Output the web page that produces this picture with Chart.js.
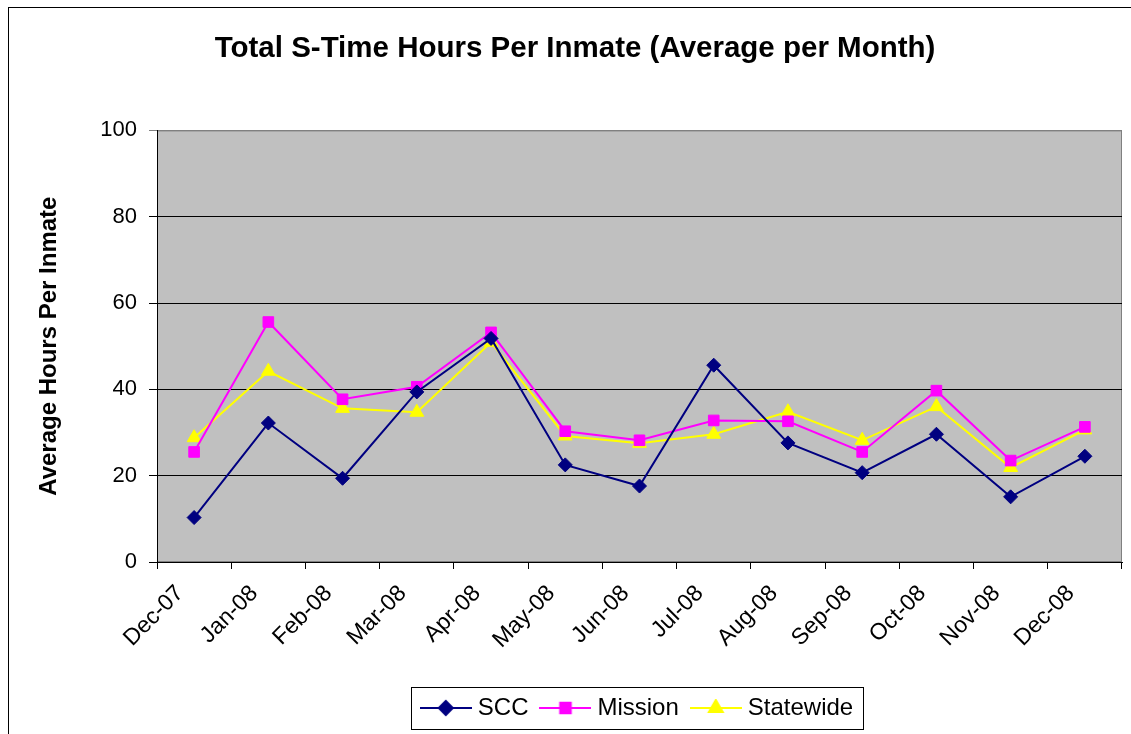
<!DOCTYPE html>
<html>
<head>
<meta charset="utf-8">
<script src="https://cdn.jsdelivr.net/npm/chart.js@4.4.1/dist/chart.umd.min.js"></script>
<style>
  html, body { margin: 0; padding: 0; background: #fff; overflow: hidden; }
  #frame { position: absolute; left: 8px; top: 7px; width: 1200px; height: 800px;
           border-left: 1px solid #000; border-top: 1px solid #000; }
  #wrap { position: absolute; left: 8px; top: 7px; width: 1134px; height: 727px; }
</style>
</head>
<body>
<div id="frame"></div>
<div id="wrap"><canvas id="myChart"></canvas></div>
<script>
const months = ['Dec-07', 'Jan-08', 'Feb-08', 'Mar-08', 'Apr-08', 'May-08', 'Jun-08',
                'Jul-08', 'Aug-08', 'Sep-08', 'Oct-08', 'Nov-08', 'Dec-08'];
const scc       = [10.3, 32.2, 19.4, 39.4, 51.8, 22.5, 17.6, 45.6, 27.6, 20.7, 29.6, 15.1, 24.5];
const mission   = [25.5, 55.6, 37.7, 40.6, 53.2, 30.3, 28.2, 32.8, 32.6, 25.5, 39.7, 23.5, 31.3];
const statewide = [28.8, 44.2, 35.6, 34.7, 50.9, 29.2, 27.5, 29.6, 34.8, 28.2, 36.0, 21.9, 30.6];
const yTicks = [0, 20, 40, 60, 80, 100];

const FONT = '"Liberation Sans", Arial, sans-serif';
const ctx = document.getElementById('myChart').getContext('2d');

// legend swatch: short line with the marker in the middle, like Excel
function swatch(color, style, radius) {
  const c = document.createElement('canvas');
  c.width = 52; c.height = 18;
  const g = c.getContext('2d');
  g.strokeStyle = color; g.lineWidth = 2;
  g.beginPath(); g.moveTo(0, 9); g.lineTo(52, 9); g.stroke();
  g.fillStyle = color;
  Chart.helpers.drawPoint(g, { pointStyle: style, radius: radius, rotation: 0, borderWidth: 1 }, 26, 9);
  g.fill();
  return c;
}

function series(label, data, color, style, radius) {
  return {
    label: label,
    data: data,
    borderColor: color,
    backgroundColor: color,
    borderWidth: 2,
    pointStyle: style,
    pointRadius: radius,
    pointHoverRadius: radius,
    pointBackgroundColor: color,
    pointBorderColor: color,
    pointBorderWidth: 1,
    tension: 0,
    legendSwatch: swatch(color, style, radius)
  };
}

const plotBox = {
  id: 'plotBox',
  beforeDraw(chart) {
    const a = chart.chartArea, c = chart.ctx;
    c.save();
    c.fillStyle = '#c0c0c0';
    c.fillRect(a.left, a.top, a.right - a.left, a.bottom - a.top);
    c.strokeStyle = '#808080'; c.lineWidth = 1;
    c.strokeRect(a.left + 0.5, a.top + 0.5, a.right - a.left - 1, a.bottom - a.top - 1);
    c.restore();
  },
  afterDraw(chart) {
    const hb = chart.legend.legendHitBoxes;
    if (!hb || !hb.length) return;
    let l = Infinity, r = -Infinity, t = Infinity, b = -Infinity;
    hb.forEach(h => { l = Math.min(l, h.left); r = Math.max(r, h.left + h.width);
                      t = Math.min(t, h.top); b = Math.max(b, h.top + h.height); });
    const c = chart.ctx;
    c.save();
    c.strokeStyle = '#000'; c.lineWidth = 1;
    c.strokeRect(Math.round(l - 15) + 0.5, Math.round(t - 9) + 0.5, Math.round(r - l + 25), Math.round(b - t + 18));
    c.restore();
  }
};

new Chart(ctx, {
  type: 'line',
  data: {
    labels: months,
    datasets: [
      series('SCC', scc, '#000080', 'rectRot', 7),
      series('Mission', mission, '#ff00ff', 'rect', 7.5),
      series('Statewide', statewide, '#ffff00', 'triangle', 8)
    ]
  },
  options: {
    responsive: true,
    maintainAspectRatio: false,
    animation: false,
    layout: { padding: { left: 20, right: 20, top: 0, bottom: 4 } },
    plugins: {
      title: {
        display: true,
        text: 'Total S-Time Hours Per Inmate (Average per Month)',
        color: '#000',
        font: { family: FONT, size: 29.5, weight: 'bold' },
        padding: { top: 24, bottom: 64 }
      },
      legend: {
        position: 'bottom',
        fullSize: false,
        labels: {
          color: '#000',
          font: { family: FONT, size: 24 },
          usePointStyle: true,
          pointStyleWidth: 40,
          padding: 17,
          generateLabels(chart) {
            return chart.data.datasets.map((ds, i) => ({
              text: ds.label,
              pointStyle: ds.legendSwatch,
              fillStyle: ds.borderColor,
              strokeStyle: ds.borderColor,
              lineWidth: 0,
              datasetIndex: i,
              fontColor: '#000'
            }));
          }
        }
      },
      tooltip: { enabled: false }
    },
    scales: {
      x: {
        offset: true,
        grid: { display: true, drawOnChartArea: false, drawTicks: true, offset: true,
                tickLength: 7, color: '#000' },
        border: { color: '#000', width: 1 },
        ticks: { color: '#000', font: { family: FONT, size: 23 },
                 minRotation: 45, maxRotation: 45, padding: 11, labelOffset: -14, autoSkip: false },
        afterFit(scale) { scale.height = 117; }
      },
      y: {
        min: 0,
        max: 100,
        afterBuildTicks(scale) { scale.ticks = yTicks.map(v => ({ value: v })); },
        grid: { color: ctx => ctx.tick && ctx.tick.value === 100 ? '#808080' : '#000',
                tickLength: 8, lineWidth: 1 },
        border: { color: '#000', width: 1 },
        ticks: { color: '#000', font: { family: FONT, size: 22 }, padding: 12 },
        title: {
          display: true,
          text: 'Average Hours Per Inmate',
          color: '#000',
          font: { family: FONT, size: 24, weight: 'bold' },
          padding: { top: 7, bottom: 0 }
        },
        afterFit(scale) { scale.width = 129; }
      }
    }
  },
  plugins: [plotBox]
});
</script>
</body>
</html>
